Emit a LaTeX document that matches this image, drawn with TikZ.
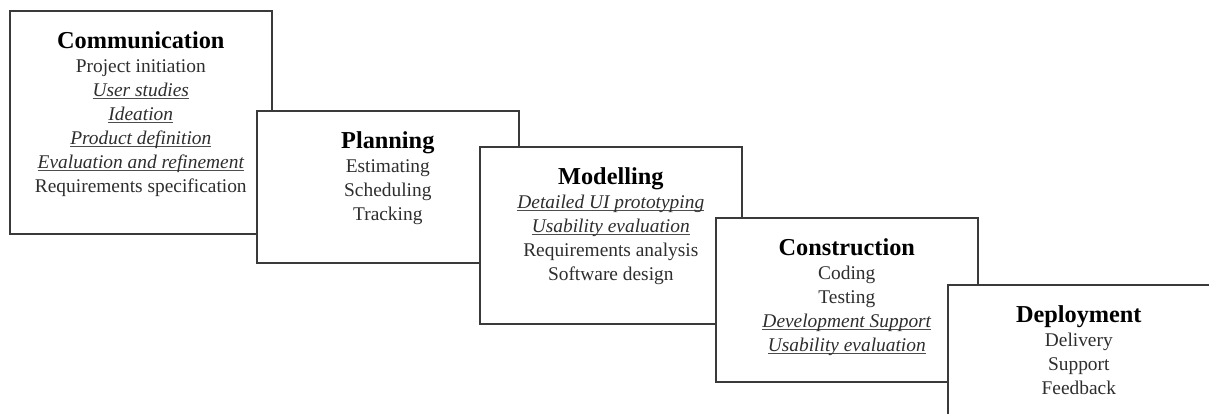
\documentclass[tikz,border=0pt]{standalone}
\usepackage{fontspec}
\setmainfont{Liberation Serif}
\definecolor{edge}{HTML}{3A3A3A}
\definecolor{body}{HTML}{2E2E2E}
\newcommand\ulit[1]{\setbox0\hbox{\itshape #1}\rlap{\color{body!85}\rule[-2.6pt]{\wd0}{0.9pt}}\box0}
\newcommand\ttl[1]{{\fontsize{24.3}{24.1}\selectfont\bfseries\color{black}#1}}
\tikzset{
  stage/.style={draw=edge, line width=1.6pt, fill=white, inner sep=0pt, anchor=north west, minimum width=262pt},
  stagetext/.style={anchor=north, align=center, inner sep=0pt, text=body, font=\fontsize{19.4}{24.1}\selectfont},
}
\begin{document}
\begin{tikzpicture}[x=1pt,y=-1pt]
\clip (0,0) rectangle (1209,414);
\fill[white] (0,0) rectangle (1209,414);
\node[stage, minimum height=223pt] (comm) at (9,10) {};
\node[stagetext] (commt) at ([yshift=-21pt]comm.north) {\ttl{Communication}\\Project initiation\\\ulit{User studies}\\\ulit{Ideation}\\\ulit{Product definition}\\\ulit{Evaluation and refinement}\\Requirements specification};
\node[stage, minimum height=152pt] (plan) at (256,110) {};
\node[stagetext] (plant) at ([yshift=-21pt]plan.north) {\ttl{Planning}\\Estimating\\Scheduling\\Tracking};
\node[stage, minimum height=177pt] (model) at (479,146) {};
\node[stagetext] (modelt) at ([yshift=-21pt]model.north) {\ttl{Modelling}\\\ulit{Detailed UI prototyping}\\\ulit{Usability evaluation}\\Requirements analysis\\Software design};
\node[stage, minimum height=164pt] (cons) at (715,217) {};
\node[stagetext] (const) at ([yshift=-21pt]cons.north) {\ttl{Construction}\\Coding\\Testing\\\ulit{Development Support}\\\ulit{Usability evaluation}};
\node[stage, minimum height=170pt] (depl) at (947,284) {};
\node[stagetext] (deplt) at ([yshift=-21pt]depl.north) {\ttl{Deployment}\\Delivery\\Support\\Feedback};
\end{tikzpicture}
\end{document}
